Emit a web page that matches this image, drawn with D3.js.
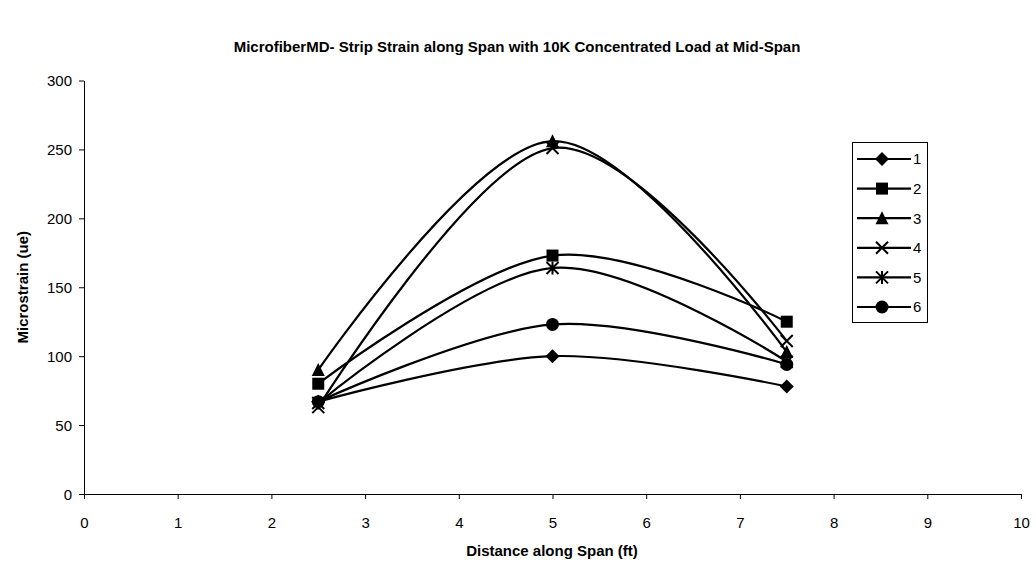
<!DOCTYPE html>
<html>
<head>
<meta charset="utf-8">
<script src="https://cdn.jsdelivr.net/npm/d3@7"></script>
<style>
  html, body { margin: 0; padding: 0; background: #fff; }
  svg { display: block; font-family: "Liberation Sans", Arial, sans-serif; }
</style>
</head>
<body>
<svg id="chart" width="1036" height="571"></svg>
<script>
// Gauge positions along the span (ft)
const distances = [2.5, 5, 7.5];

// Strip strain readings (microstrain) for each gauge strip
const seriesNames = ["1", "2", "3", "4", "5", "6"];
const strip1 = [67, 100, 78];
const strip2 = [80, 173, 125];
const strip3 = [90, 256, 103];
const strip4 = [63, 251, 111];
const strip5 = [66, 164, 96];
const strip6 = [67, 123, 94];
const markerKinds = ["diamond", "square", "triangle", "x", "asterisk", "circle"];

const xTicks = [0, 1, 2, 3, 4, 5, 6, 7, 8, 9, 10];
const yTicks = [0, 50, 100, 150, 200, 250, 300];

const titleText = "MicrofiberMD- Strip Strain along Span with 10K Concentrated Load at Mid-Span";
const xTitle = "Distance along Span (ft)";
const yTitle = "Microstrain (ue)";

const seriesValues = [strip1, strip2, strip3, strip4, strip5, strip6];
const series = seriesNames.map((name, i) => ({
  name,
  kind: markerKinds[i],
  points: distances.map((d, j) => ({ x: d, y: seriesValues[i][j] }))
}));

const svg = d3.select("#chart");
const plotLeft = 84, plotRight = 1021, plotTop = 80.5, plotBottom = 494;
const fontSize = 15;

const x = d3.scaleLinear().domain([0, 10]).range([plotLeft, plotRight]);
const y = d3.scaleLinear().domain([0, 300]).range([plotBottom, plotTop]);

// Title
svg.append("text")
  .attr("x", 517).attr("y", 52)
  .attr("text-anchor", "middle")
  .attr("font-size", fontSize).attr("font-weight", "bold")
  .text(titleText);

// Axes
const xAxis = svg.append("g")
  .attr("transform", `translate(0,${plotBottom})`)
  .call(d3.axisBottom(x).tickValues(xTicks).tickSize(5).tickSizeOuter(0).tickFormat(d3.format("d")));
const yAxis = svg.append("g")
  .attr("transform", `translate(${plotLeft},0)`)
  .call(d3.axisLeft(y).tickValues(yTicks).tickSize(5).tickSizeOuter(0).tickFormat(d3.format("d")));

[xAxis, yAxis].forEach(g => {
  g.select(".domain").attr("stroke", "#000").attr("stroke-width", 1);
  g.selectAll(".tick line").attr("stroke", "#000");
  g.selectAll(".tick text").attr("fill", "#000").attr("font-size", fontSize)
    .attr("font-family", "Liberation Sans, Arial, sans-serif");
});
xAxis.selectAll(".tick text").attr("dy", "0").attr("y", 34);
yAxis.selectAll(".tick text").attr("x", -12).attr("dy", "0.35em");

// Axis titles
svg.append("text")
  .attr("x", 552).attr("y", 556)
  .attr("text-anchor", "middle")
  .attr("font-size", fontSize).attr("font-weight", "bold")
  .text(xTitle);
svg.append("text")
  .attr("transform", `translate(28,${(plotTop + plotBottom) / 2}) rotate(-90)`)
  .attr("text-anchor", "middle")
  .attr("font-size", fontSize).attr("font-weight", "bold")
  .text(yTitle);

// Marker shapes
function drawMarker(g, kind, cx, cy) {
  const s = 6;
  if (kind === "diamond") {
    g.append("path").attr("d", `M${cx},${cy - s - 1}L${cx + s + 1},${cy}L${cx},${cy + s + 1}L${cx - s - 1},${cy}Z`).attr("fill", "#000");
  } else if (kind === "square") {
    g.append("rect").attr("x", cx - s).attr("y", cy - s).attr("width", 2 * s).attr("height", 2 * s).attr("fill", "#000");
  } else if (kind === "triangle") {
    g.append("path").attr("d", `M${cx},${cy - s - 1}L${cx + s + 0.5},${cy + s}L${cx - s - 0.5},${cy + s}Z`).attr("fill", "#000");
  } else if (kind === "x") {
    g.append("path").attr("d", `M${cx - s},${cy - s}L${cx + s},${cy + s}M${cx - s},${cy + s}L${cx + s},${cy - s}`)
      .attr("stroke", "#000").attr("stroke-width", 2).attr("fill", "none");
  } else if (kind === "asterisk") {
    g.append("path").attr("d", `M${cx - s},${cy - s}L${cx + s},${cy + s}M${cx - s},${cy + s}L${cx + s},${cy - s}M${cx},${cy - s - 0.5}L${cx},${cy + s + 0.5}`)
      .attr("stroke", "#000").attr("stroke-width", 2).attr("fill", "none");
  } else if (kind === "circle") {
    g.append("circle").attr("cx", cx).attr("cy", cy).attr("r", s + 0.5).attr("fill", "#000");
  }
}

// Smoothed strain lines
const line = d3.line()
  .x(d => x(d.x)).y(d => y(d.y))
  .curve(d3.curveCardinal.tension(0));

const plot = svg.append("g");
series.forEach(s => {
  plot.append("path")
    .datum(s.points)
    .attr("d", line)
    .attr("fill", "none")
    .attr("stroke", "#000")
    .attr("stroke-width", 2.2);
});
series.forEach(s => {
  const g = plot.append("g");
  s.points.forEach(p => drawMarker(g, s.kind, x(p.x), y(p.y)));
});

// Legend
const legend = svg.append("g");
legend.append("rect")
  .attr("x", 852.5).attr("y", 142.5).attr("width", 75).attr("height", 180)
  .attr("fill", "#fff").attr("stroke", "#000").attr("stroke-width", 1);
series.forEach((s, i) => {
  const ly = 159 + i * 29.6;
  legend.append("line")
    .attr("x1", 857).attr("x2", 911).attr("y1", ly).attr("y2", ly)
    .attr("stroke", "#000").attr("stroke-width", 2.2);
  drawMarker(legend, s.kind, 882, ly);
  legend.append("text")
    .attr("x", 913).attr("y", ly).attr("dy", "0.36em")
    .attr("font-size", fontSize)
    .text(s.name);
});
</script>
</body>
</html>
